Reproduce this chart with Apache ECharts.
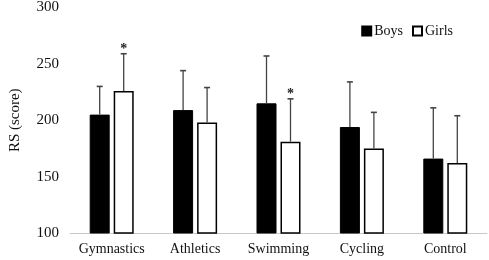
<!DOCTYPE html>
<html>
<head>
<meta charset="utf-8">
<script src="https://cdn.jsdelivr.net/npm/echarts@6/dist/echarts.min.js"></script>
<style>
  html, body { margin: 0; padding: 0; background: #fff; }
  #main { width: 489px; height: 260px; }
</style>
</head>
<body>
<div id="main"></div>
<script>
// 数据
var categories = ['Gymnastics', 'Athletics', 'Swimming', 'Cycling', 'Control']
var boysMean = [205, 209, 215, 194, 166]
var boysErr = [230, 244, 257, 234, 211]
var girlsMean = [226, 198, 181, 175, 162]
var girlsErr = [259, 229, 219, 207, 204]
var girlsStar = [true, false, true, false, false]
var yTicks = [100, 150, 200, 250, 300]

var font = '"Liberation Serif", "Times New Roman", serif'

// 误差线数据: [类别序号, 均值, 上限, 偏移, 星号]
var errData = []
for (var i = 0; i < categories.length; i++) {
    errData.push([i, boysMean[i], boysErr[i], -12, 0])
    errData.push([i, girlsMean[i], girlsErr[i], 12, girlsStar[i] ? 1 : 0])
}

function renderErr (params, api) {
    var lo = api.coord([api.value(0), api.value(1)])
    var hi = api.coord([api.value(0), api.value(2)])
    var x = lo[0] + api.value(3)
    var children = [
        { type: 'line', shape: { x1: x, y1: lo[1], x2: x, y2: hi[1] }, style: { stroke: '#444', lineWidth: 1.3 } },
        { type: 'line', shape: { x1: x - 3, y1: hi[1], x2: x + 3, y2: hi[1] }, style: { stroke: '#444', lineWidth: 1.6 } }
    ]
    if (api.value(4)) {
        // 显著性星号
        children.push({
            type: 'text',
            style: { text: '*', x: x, y: hi[1] - 4, align: 'center', verticalAlign: 'middle',
                font: 'bold 14px ' + font, fill: '#222' }
        })
    }
    return { type: 'group', children: children }
}

var myChart = echarts.init(document.getElementById('main'))
var option = {
    animation: false,
    grid: { left: 57, right: 2, top: 7, bottom: 27 },
    legend: {
        data: ['Boys', 'Girls'],
        right: 31,
        top: 19,
        icon: 'rect',
        itemWidth: 9,
        itemHeight: 9,
        itemGap: 9,
        textStyle: { fontFamily: font, fontSize: 14, color: '#111', padding: [0, 0, 0, -2] }
    },
    xAxis: {
        type: 'category',
        data: categories,
        axisLine: { lineStyle: { color: '#c8c8c8', width: 1 } },
        axisTick: { show: false },
        axisLabel: { fontFamily: font, fontSize: 14, color: '#111', margin: 9, interval: 0 }
    },
    yAxis: {
        type: 'value',
        min: yTicks[0],
        max: yTicks[yTicks.length - 1],
        interval: 50,
        name: 'RS (score)',
        nameLocation: 'middle',
        nameGap: 47,
        nameRotate: 90,
        nameTextStyle: { fontFamily: font, fontSize: 15, color: '#111' },
        axisLine: { show: false },
        axisTick: { show: false },
        splitLine: { show: false },
        axisLabel: { fontFamily: font, fontSize: 15, color: '#111', margin: 11 }
    },
    series: [{
        name: 'Boys',
        type: 'bar',
        data: boysMean,
        barWidth: 20,
        barGap: '20%',
        itemStyle: { color: '#000', borderColor: '#000', borderWidth: 1 }
    }, {
        name: 'Girls',
        type: 'bar',
        data: girlsMean,
        barWidth: 20,
        itemStyle: { color: '#fff', borderColor: '#000', borderWidth: 1.5 }
    }, {
        type: 'custom',
        renderItem: renderErr,
        data: errData,
        z: 5,
        silent: true
    }]
}
myChart.setOption(option)
window.onresize = myChart.resize
</script>
</body>
</html>
